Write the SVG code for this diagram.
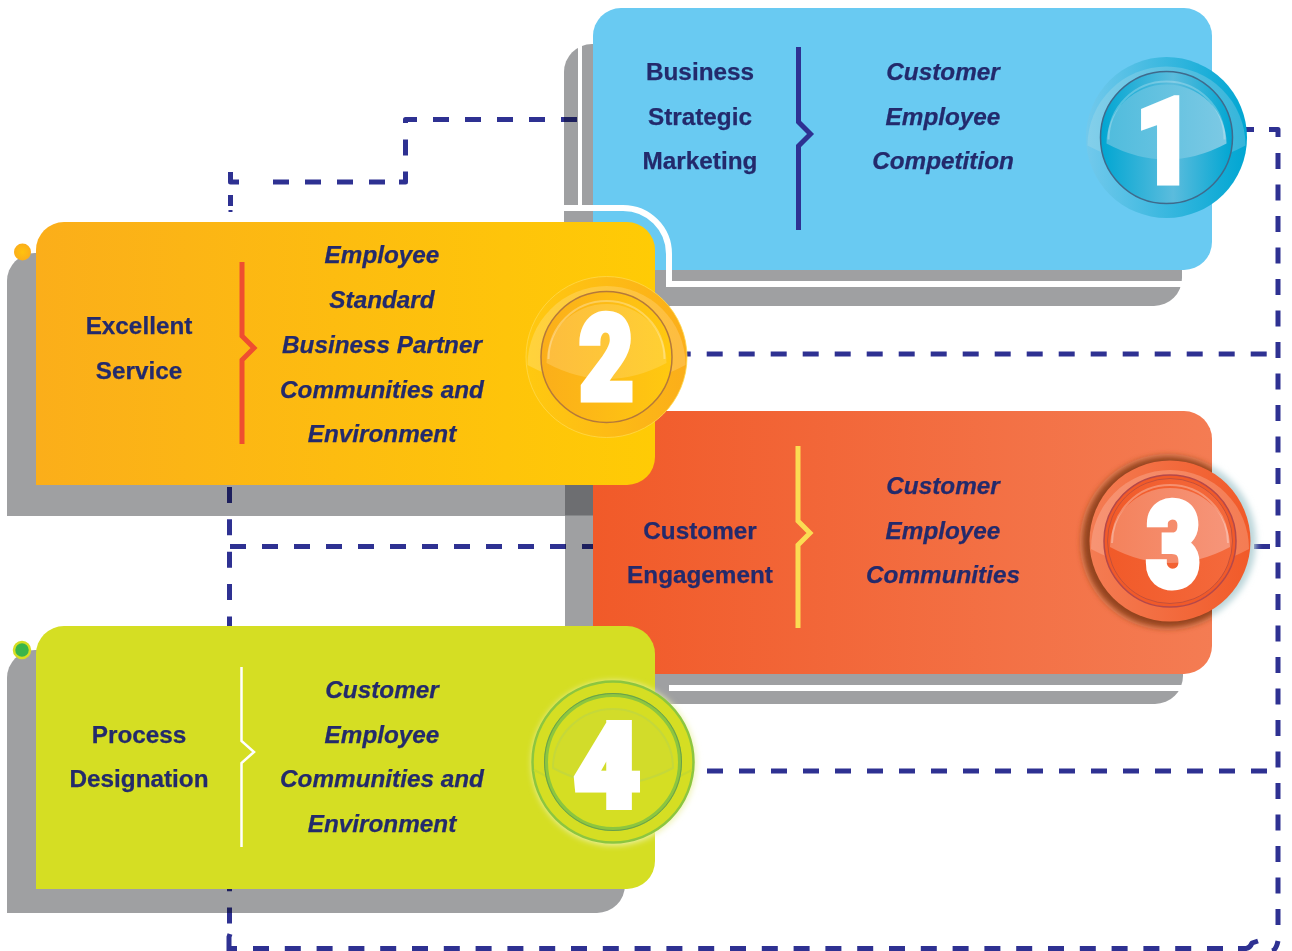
<svg xmlns="http://www.w3.org/2000/svg" width="1292" height="951" viewBox="0 0 1292 951">
<style>
text{font-family:"Liberation Sans",Arial,sans-serif;font-size:24.3px;font-weight:700;fill:#232a6c;stroke:#232a6c;stroke-width:.25;text-anchor:middle}
.i{font-style:italic}
text.num{font-family:Roboto,"Liberation Sans",sans-serif;font-weight:900;font-size:116px;fill:#fff;stroke:#fff;stroke-width:7;stroke-linejoin:miter}
.sh{fill:#9fa0a2}
.dash{fill:none;stroke:#2e3192;stroke-width:5;stroke-dasharray:16 16}
.solid{fill:none;stroke:#2e3192;stroke-width:5;stroke-linejoin:round}
.wl{fill:none;stroke:#fff}
.div{fill:none;stroke-width:5;stroke-linejoin:miter}
#connectors{mix-blend-mode:multiply}
</style>
<defs>
<linearGradient id="gY" x1="0" x2="1" y1="0" y2="0"><stop offset="0" stop-color="#fbae1a"/><stop offset="1" stop-color="#ffcb05"/></linearGradient>
<linearGradient id="gO" x1="0" x2="1" y1="0" y2="0"><stop offset="0" stop-color="#f15a29"/><stop offset="1" stop-color="#f47c53"/></linearGradient>
<linearGradient id="b1o" x1="0" x2="1" y1="0" y2="0"><stop offset="0" stop-color="#72c9ec"/><stop offset="1" stop-color="#00a6d2"/></linearGradient>
<linearGradient id="b1c" x1="0" x2="1" y1="0" y2="0"><stop offset="0" stop-color="#84cfea"/><stop offset="1" stop-color="#35b5da"/></linearGradient>
<linearGradient id="b1i" x1="0" x2="1" y1="0" y2="0"><stop offset="0" stop-color="#00a6d2"/><stop offset=".55" stop-color="#5bbcdd"/><stop offset="1" stop-color="#00a6d2"/></linearGradient>
<linearGradient id="b1g" x1="0" x2="1" y1="0" y2="0"><stop offset="0" stop-color="#50bcdd"/><stop offset="1" stop-color="#7cc9e4"/></linearGradient>
<linearGradient id="b2o" x1="0" x2="1" y1="0" y2="0"><stop offset="0" stop-color="#ffc910"/><stop offset="1" stop-color="#fbae1a"/></linearGradient>
<linearGradient id="b2c" x1="0" x2="1" y1="0" y2="0"><stop offset="0" stop-color="#ffd33c"/><stop offset="1" stop-color="#fdbc41"/></linearGradient>
<linearGradient id="b2i" x1="0" x2="1" y1="0" y2="0"><stop offset="0" stop-color="#fbae1a"/><stop offset="1" stop-color="#ffc910"/></linearGradient>
<linearGradient id="b2g" x1="0" x2="1" y1="0" y2="0"><stop offset="0" stop-color="#fdbd3e"/><stop offset="1" stop-color="#ffd033"/></linearGradient>
<linearGradient id="b3o" x1="0" x2="1" y1="0" y2="0"><stop offset="0" stop-color="#f47c53"/><stop offset="1" stop-color="#f15a29"/></linearGradient>
<linearGradient id="b3c" x1="0" x2="1" y1="0" y2="0"><stop offset="0" stop-color="#f79474"/><stop offset="1" stop-color="#f47c53"/></linearGradient>
<linearGradient id="b3i" x1="0" x2="1" y1="0" y2="0"><stop offset="0" stop-color="#f15a29"/><stop offset="1" stop-color="#f4693c"/></linearGradient>
<linearGradient id="b3g" x1="0" x2="1" y1="0" y2="0"><stop offset="0" stop-color="#f4825c"/><stop offset="1" stop-color="#f6957a"/></linearGradient>
<radialGradient id="dot" cx=".5" cy=".5" r=".5"><stop offset="0" stop-color="#ffc20e"/><stop offset="1" stop-color="#fbae1a"/></radialGradient>
<filter id="blur" x="-20%" y="-20%" width="140%" height="140%"><feGaussianBlur stdDeviation="3"/></filter>
<path id="cap" d="M-79 8A79 79 0 0 1 79 8Q0 50-79 8Z"/>
<path id="gloss" d="M-60 6A60 59 0 0 1 60 6Q0 38-60 6Z"/>
<path id="rim" d="M-58 2A58 58 0 0 1 58 2"/>
<clipPath id="card3"><rect x="593" y="411" width="619" height="263" rx="28"/></clipPath>
<clipPath id="off3"><rect x="1212" y="430" width="70" height="230"/></clipPath>
</defs>
<rect width="1292" height="951" fill="#fff"/>
<g id="shadows">
<path class="sh" d="M592 44H593V306H564V72A28 28 0 0 1 592 44Z"/>
<path class="sh" d="M564 200H1182V278A28 28 0 0 1 1154 306H564Z"/>
<path class="sh" d="M565 447H1183V676A28 28 0 0 1 1155 704H565Z"/>
<path class="sh" d="M35 253H593V516H7V281A28 28 0 0 1 35 253Z"/>
<path class="sh" d="M35 650H625V885A28 28 0 0 1 597 913H7V678A28 28 0 0 1 35 650Z"/>
<rect x="565" y="485" width="28" height="30.500" fill="#6d6e71"/>
<rect x="578" y="40" width="4" height="168" fill="#fff"/>
<rect x="669" y="685" width="520" height="6" fill="#fff"/>
</g>
<g id="connectors">
<path class="dash" d="M577 119.500H417"/>
<path class="solid" d="M417 119.500H405.500V123"/>
<path class="dash" d="M405.500 139.500V155.500M405.500 171.500V176"/>
<path class="solid" d="M405.500 172V182H399"/>
<path class="dash" d="M385 182H257"/>
<path class="solid" d="M239 182H230.500V172"/>
<path class="dash" d="M230.500 195V206"/>
<path class="dash" d="M230.500 210V212" style="stroke-width:4"/>
<path class="dash" d="M229.500 487V930" style="stroke-dasharray:16 16.350"/>
<path class="solid" d="M229 951V937L230 934M229 948.500H237" style="stroke-linejoin:miter"/>
<path class="dash" d="M253 948.500H1224" style="stroke-dasharray:16 15.800"/>
<path class="solid" d="M1238 948.500H1246Q1250 948 1252 943L1258 941"/>
<path class="solid" d="M1272 951Q1276 950 1278 941" style="stroke-linecap:butt"/>
<path class="dash" d="M1278 153V926" style="stroke-dasharray:16 15.500"/>
<path class="solid" d="M1269 129.500H1278V137"/>
<path class="dash" d="M1238 129.500H1254" />
<path class="dash" d="M674.700 354H1278"/>
<path class="dash" d="M230 546.500H593"/>
<path class="dash" d="M1254 546.500H1270"/>
<path class="dash" d="M707 771H1278"/>
</g>
<g id="node-1">
<rect x="593" y="8" width="619" height="262" rx="28" fill="#69caf2"/>
<path class="wl" d="M563 208H623A46 46 0 0 1 669 254V284H1190" stroke-width="6"/>
<path class="div" stroke="#2e3192" d="M798.500 47V122L810.500 134L798.500 146V230"/>
<text x="700" y="80">Business</text><text x="700" y="124.500">Strategic</text><text x="700" y="169">Marketing</text>
<text class="i" x="943" y="80">Customer</text><text class="i" x="943" y="124.500">Employee</text><text class="i" x="943" y="169">Competition</text>
<g transform="translate(1166.500 137.500)">
<circle r="80.500" fill="url(#b1o)"/>
<use href="#cap" fill="url(#b1c)"/>
<circle r="66" fill="url(#b1i)" stroke="#3f6a8c" stroke-width="1.500"/>
<use href="#gloss" fill="url(#b1g)"/>
<use href="#rim" fill="none" stroke="#fff" stroke-opacity=".25" stroke-width="2"/>
<text class="num" transform="translate(-2 44.500) scale(.85 1)" x="0" y="0">1</text>
</g>
</g>
<g id="node-3">
<rect x="593" y="411" width="619" height="263" rx="28" fill="url(#gO)"/>
<path class="div" stroke="#fbdc53" d="M798 446V521L810 533L798 545V628"/>
<text x="700" y="539">Customer</text><text x="700" y="583">Engagement</text>
<text class="i" x="943" y="494">Customer</text><text class="i" x="943" y="539">Employee</text><text class="i" x="943" y="583">Communities</text>
<g clip-path="url(#off3)"><circle cx="1171" cy="541" r="85" fill="#bcd6da" filter="url(#blur)"/></g>
<g clip-path="url(#card3)"><circle cx="1168" cy="542" r="88" fill="#f68a5f"/><circle cx="1168" cy="542" r="86" fill="#93421f" filter="url(#blur)"/></g>
<g transform="translate(1170 541)">
<circle r="80.500" fill="url(#b3o)"/>
<use href="#cap" fill="url(#b3c)"/>
<circle r="66" fill="#f15a29" stroke="#b5484a" stroke-width="1.500"/>
<circle r="62.500" fill="url(#b3i)" stroke="#c4503a" stroke-width="1"/>
<use href="#gloss" fill="url(#b3g)"/>
<use href="#rim" fill="none" stroke="#fff" stroke-opacity=".3" stroke-width="2"/>
<text class="num" transform="translate(3.500 44.500) scale(.8 1)" x="0" y="0">3</text>
</g>
</g>
<g id="node-2">
<path d="M64 222H627A28 28 0 0 1 655 250V457A28 28 0 0 1 627 485H36V250A28 28 0 0 1 64 222Z" fill="url(#gY)"/>
<circle cx="22.500" cy="252" r="8.500" fill="url(#dot)"/>
<path class="div" stroke="#ef4e30" d="M242 262V336L254 348L242 360V444"/>
<text x="139" y="334">Excellent</text><text x="139" y="379">Service</text>
<text class="i" x="382" y="263">Employee</text><text class="i" x="382" y="307.500">Standard</text><text class="i" x="382" y="353">Business Partner</text><text class="i" x="382" y="398">Communities and</text><text class="i" x="382" y="442">Environment</text>
<g transform="translate(606.500 357)">
<circle r="80.500" fill="url(#b2o)" stroke="#ffd84a" stroke-width=".8"/>
<use href="#cap" fill="url(#b2c)"/>
<circle r="65.500" fill="url(#b2i)" stroke="#b5793a" stroke-width="1.500"/>
<use href="#gloss" fill="url(#b2g)"/>
<use href="#rim" fill="none" stroke="#fff" stroke-opacity=".3" stroke-width="2"/>
<text class="num" transform="translate(0 42) scale(.8 1)" x="0" y="0">2</text>
</g>
</g>
<g id="node-4">
<path d="M64 626H627A28 28 0 0 1 655 654V861A28 28 0 0 1 627 889H36V654A28 28 0 0 1 64 626Z" fill="#d5de23"/>
<circle cx="22" cy="650" r="8" fill="#39b54a" stroke="#d5de23" stroke-width="2.500"/>
<path class="div" stroke="#fff" style="stroke-width:2.500" d="M241.500 667V741L254 752L241.500 763V847"/>
<text x="139" y="743">Process</text><text x="139" y="787">Designation</text>
<text class="i" x="382" y="698">Customer</text><text class="i" x="382" y="743">Employee</text><text class="i" x="382" y="787">Communities and</text><text class="i" x="382" y="832">Environment</text>
<g transform="translate(613 762)">
<circle r="82" cx="1" cy="1" fill="#eef2b0" filter="url(#blur)"/>
<circle r="80.500" fill="#d5de23" stroke="#8cc63f" stroke-width="2.500"/>
<path d="M-79 8Q0 50 79 8" fill="none" stroke="#c6d92e" stroke-width="2"/>
<circle r="67" fill="#d5de23" stroke="#8cc63f" stroke-width="4"/>
<circle r="68.500" fill="none" stroke="#6aa04a" stroke-width="1"/>
<use href="#gloss" fill="#d2dc2a" stroke="#c5d83a" stroke-width="2"/>
<text class="num" transform="translate(-6 45) scale(.98 1)" x="0" y="0">4</text>
</g>
</g>
</svg>
